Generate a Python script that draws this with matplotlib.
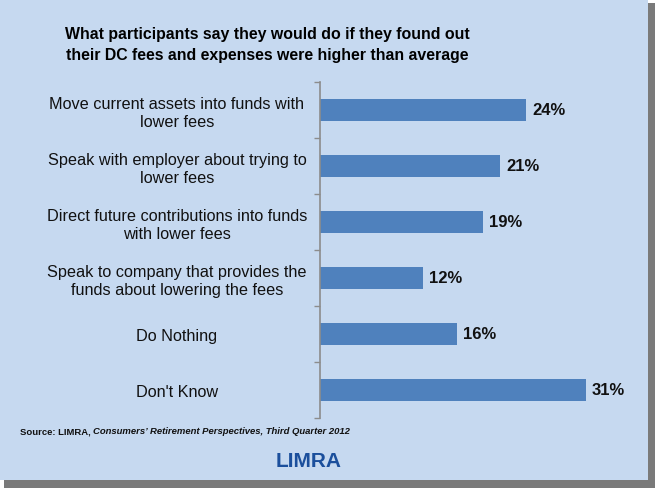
import matplotlib.pyplot as plt
from matplotlib.patches import Rectangle
import numpy as np

plt.rcParams['font.family'] = ['Liberation Sans', 'DejaVu Sans']

labels = [
    'Move current assets into funds with\nlower fees',
    'Speak with employer about trying to\nlower fees',
    'Direct future contributions into funds\nwith lower fees',
    'Speak to company that provides the\nfunds about lowering the fees',
    'Do Nothing',
    "Don't Know",
]
values = [24, 21, 19, 12, 16, 31]
value_labels = ['24%', '21%', '19%', '12%', '16%', '31%']

title = 'What participants say they would do if they found out\ntheir DC fees and expenses were higher than average'

bg = '#C6D9F0'
bar_color = '#4F81BD'

fig = plt.figure(figsize=(6.55, 4.89), dpi=100)
fig.patch.set_facecolor('white')

# panel with drop shadow
W, H = 655, 489
shadow = Rectangle((4 / W, 0), 651 / W, 485 / H, transform=fig.transFigure,
                   facecolor='#7a7a7a', edgecolor='none', zorder=0)
fig.patches.append(shadow)
panel = Rectangle((0, 8 / H), 648 / W, 481 / H, transform=fig.transFigure,
                  facecolor=bg, edgecolor='none', zorder=1)
fig.patches.append(panel)

ax = fig.add_axes([320 / W, 1 - 419 / H, 309 / W, 336 / H])
ax.set_zorder(5)
ax.set_facecolor('none')

y = np.arange(len(values))
ax.barh(y, values, height=0.4, color=bar_color, zorder=2)
for yi, v, t in zip(y, values, value_labels):
    ax.text(v + 0.7, yi, t, va='center', ha='left', fontsize=12, fontweight='bold', color='#111111')

ax.set_ylim(len(values) - 0.5, -0.5)
ax.set_xlim(0, 36)
ax.set_yticks(y)
ax.set_yticklabels(labels, fontsize=11.7, ha='center', color='#111111', linespacing=1.2)
ax.tick_params(axis='y', which='major', length=0, pad=103)
ax.set_yticks(np.arange(-0.5, len(values)), minor=True)
ax.tick_params(axis='y', which='minor', length=4, color='#8c8c8c', width=1)
ax.set_xticks([])
for s in ['top', 'right', 'bottom']:
    ax.spines[s].set_visible(False)
ax.spines['left'].set_color('#8c8c8c')
ax.spines['left'].set_linewidth(1.2)

fig.text(267 / W, 1 - 45 / H, title, ha='center', va='center', fontsize=11.4,
         fontweight='bold', color='#000000', linespacing=1.5)

src1 = fig.text(20 / W, 1 - 432 / H, 'Source: LIMRA, ', ha='left', va='center', fontsize=6.8,
                fontweight='bold', color='#111111')
fig.canvas.draw()
bb = src1.get_window_extent(fig.canvas.get_renderer())
fig.text(bb.x1 / W, 1 - 432 / H, "Consumers\u2019 Retirement Perspectives, Third Quarter 2012",
         ha='left', va='center', fontsize=6.8, fontweight='bold', style='italic', color='#111111')
fig.text(309 / W, 1 - 462 / H, 'LIMRA', ha='center', va='center', fontsize=15,
         fontweight='bold', color='#1B4F9C')

fig.savefig('out.png', dpi=100, facecolor=fig.get_facecolor())
